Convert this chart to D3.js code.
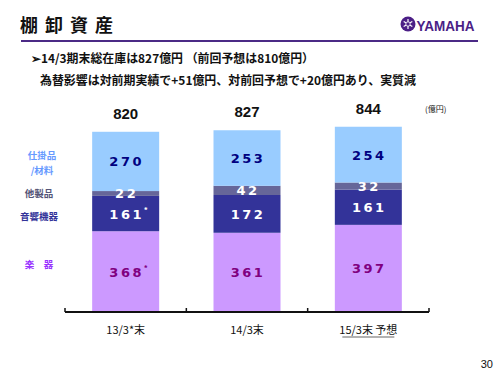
<!DOCTYPE html>
<html>
<head>
<meta charset="utf-8">
<script src="https://cdn.jsdelivr.net/npm/d3@7"></script>
<style>
  body { margin: 0; background: #fff; }
  svg { display: block; font-family: "Noto Sans CJK JP", "Liberation Sans", sans-serif; }
</style>
</head>
<body>
<div id="vis"></div>
<script>
// Data
const categories = ['13/3*末', '14/3末', '15/3末 予想'];
const totals = [820, 827, 844];
const gakki = [368, 361, 397];     // 楽器
const onkyo = [161, 172, 161];     // 音響機器
const tasei = [22, 42, 32];        // 他製品
const shikake = [270, 253, 254];   // 仕掛品/材料
const starred = [true, false, false];

const segKeys = ['gakki', 'onkyo', 'tasei', 'shikake'];
const segFill = { gakki: '#cc99ff', onkyo: '#333399', tasei: '#666699', shikake: '#99ccff' };
const segText = { gakki: '#800080', onkyo: '#ffffff', tasei: '#ffffff', shikake: '#000080' };

const rows = categories.map((c, i) => ({
    cat: c, total: totals[i], star: starred[i],
    gakki: gakki[i], onkyo: onkyo[i], tasei: tasei[i], shikake: shikake[i]
}));

const W = 500, H = 375;
const svg = d3.select('#vis').append('svg').attr('width', W).attr('height', H);

// Header
svg.append('text').attr('x', 20).attr('y', 32)
    .attr('textLength', 93).attr('lengthAdjust', 'spacing')
    .style('font-size', '18px').style('font-weight', 'bold').attr('fill', '#111')
    .text('棚 卸 資 産');

svg.append('line').attr('x1', 21).attr('x2', 478).attr('y1', 41).attr('y2', 41)
    .attr('stroke', '#4b2a86').attr('stroke-width', 2);

// Logo
const logo = svg.append('g');
logo.append('circle').attr('cx', 408).attr('cy', 24).attr('r', 7.5).attr('fill', '#4b1e86');
[0, 60, 120].forEach(a => {
    logo.append('line').attr('x1', 408).attr('y1', 19).attr('x2', 408).attr('y2', 29)
        .attr('stroke', '#fff').attr('stroke-width', 1.2)
        .attr('transform', `rotate(${a},408,24)`);
});
logo.append('circle').attr('cx', 408).attr('cy', 24).attr('r', 2.2).attr('fill', '#4b1e86')
    .attr('stroke', '#fff').attr('stroke-width', 0.8);
logo.append('text').attr('x', 416.5).attr('y', 30.5)
    .attr('textLength', 58).attr('lengthAdjust', 'spacingAndGlyphs')
    .style('font-family', '"Liberation Sans", Arial, sans-serif')
    .style('font-size', '15px').style('font-weight', 'bold').attr('fill', '#4b1e86')
    .text('YAMAHA');

svg.append('text').attr('x', 31).attr('y', 63)
    .attr('textLength', 283).attr('lengthAdjust', 'spacingAndGlyphs')
    .style('font-size', '12px').style('font-weight', 'bold').attr('fill', '#111')
    .text('➢14/3期末総在庫は827億円 （前回予想は810億円）');

svg.append('text').attr('x', 40).attr('y', 85)
    .attr('textLength', 376).attr('lengthAdjust', 'spacingAndGlyphs')
    .style('font-size', '12px').style('font-weight', 'bold').attr('fill', '#111')
    .text('為替影響は対前期実績で+51億円、対前回予想で+20億円あり、実質減');

// Scales
const x = d3.scaleBand().domain(categories).range([65, 429]).padding(0);
const barW = 67;
const y = d3.scaleLinear().domain([0, 1000]).range([312, 312 - 219.5]);

const stack = d3.stack().keys(segKeys)(rows);

const layers = svg.selectAll('.layer').data(stack).join('g').attr('class', 'layer')
    .attr('fill', d => segFill[d.key]);

layers.selectAll('rect').data(d => d).join('rect')
    .attr('x', d => x(d.data.cat) + (x.bandwidth() - barW) / 2)
    .attr('width', barW)
    .attr('y', d => y(d[1]))
    .attr('height', d => y(d[0]) - y(d[1]));

// Segment labels
stack.forEach(layer => {
    layer.forEach(d => {
        svg.append('text')
            .attr('x', x(d.data.cat) + x.bandwidth() / 2 + 1)
            .attr('y', (y(d[0]) + y(d[1])) / 2 + 5)
            .attr('text-anchor', 'middle')
            .style('font-family', '"DejaVu Sans", Verdana, sans-serif')
            .style('font-size', '13px').style('font-weight', 'bold')
            .style('letter-spacing', '2.5px')
            .attr('fill', segText[layer.key])
            .text(d.data[layer.key]);
        if (d.data.star && (layer.key === 'gakki' || layer.key === 'onkyo')) {
            svg.append('text')
                .attr('x', x(d.data.cat) + x.bandwidth() / 2 + 18)
                .attr('y', (y(d[0]) + y(d[1])) / 2 - 1)
                .style('font-size', '8px').style('font-weight', 'bold')
                .attr('fill', segText[layer.key])
                .text('*');
        }
    });
});

// Totals
svg.selectAll('.total').data(rows).join('text').attr('class', 'total')
    .attr('x', d => x(d.cat) + x.bandwidth() / 2)
    .attr('y', d => y(d.total) - 13)
    .attr('text-anchor', 'middle')
    .style('font-family', '"Liberation Sans", Arial, sans-serif')
    .style('font-size', '15px').style('font-weight', 'bold').attr('fill', '#111')
    .text(d => d.total);

svg.append('text').attr('x', 425).attr('y', 112)
    .style('font-size', '8px').attr('fill', '#111').text('(億円)');

// Left legend labels
const legend = [
    { t: '仕掛品', x: 42, y: 159, c: '#6699ff' },
    { t: '/材料', x: 42, y: 173.5, c: '#6699ff' },
    { t: '他製品', x: 39, y: 197, c: '#555577' },
    { t: '音響機器', x: 39, y: 220, c: '#333399' },
    { t: '楽　器', x: 39, y: 268, c: '#9933ff' }
];
svg.selectAll('.leg').data(legend).join('text').attr('class', 'leg')
    .attr('x', d => d.x).attr('y', d => d.y)
    .attr('text-anchor', 'middle')
    .style('font-size', '9.5px').style('font-weight', 'bold')
    .attr('fill', d => d.c).text(d => d.t);

// Axis
const axis = svg.append('g');
axis.append('line').attr('x1', 65).attr('x2', 429).attr('y1', 312).attr('y2', 312)
    .attr('stroke', '#111').attr('stroke-width', 2);
const ticks = categories.map(c => x(c)).concat([x(categories[2]) + x.bandwidth()]);
axis.selectAll('.tick').data(ticks).join('line')
    .attr('x1', d => d).attr('x2', d => d).attr('y1', 308).attr('y2', 312)
    .attr('stroke', '#111').attr('stroke-width', 1.5);

svg.selectAll('.cat').data(categories).join('text').attr('class', 'cat')
    .attr('x', d => x(d) + x.bandwidth() / 2).attr('y', 334)
    .attr('text-anchor', 'middle')
    .style('font-size', '11px').attr('fill', '#111')
    .text(d => d);

// underline for forecast label
const lastC = x(categories[2]) + x.bandwidth() / 2;
svg.append('line').attr('x1', lastC - 26).attr('x2', lastC + 26)
    .attr('y1', 337).attr('y2', 337).attr('stroke', '#999').attr('stroke-width', 1.5);

svg.append('text').attr('x', 493).attr('y', 368).attr('text-anchor', 'end')
    .style('font-family', '"Liberation Sans", Arial, sans-serif')
    .style('font-size', '11px').attr('fill', '#111').text('30');
</script>
</body>
</html>
